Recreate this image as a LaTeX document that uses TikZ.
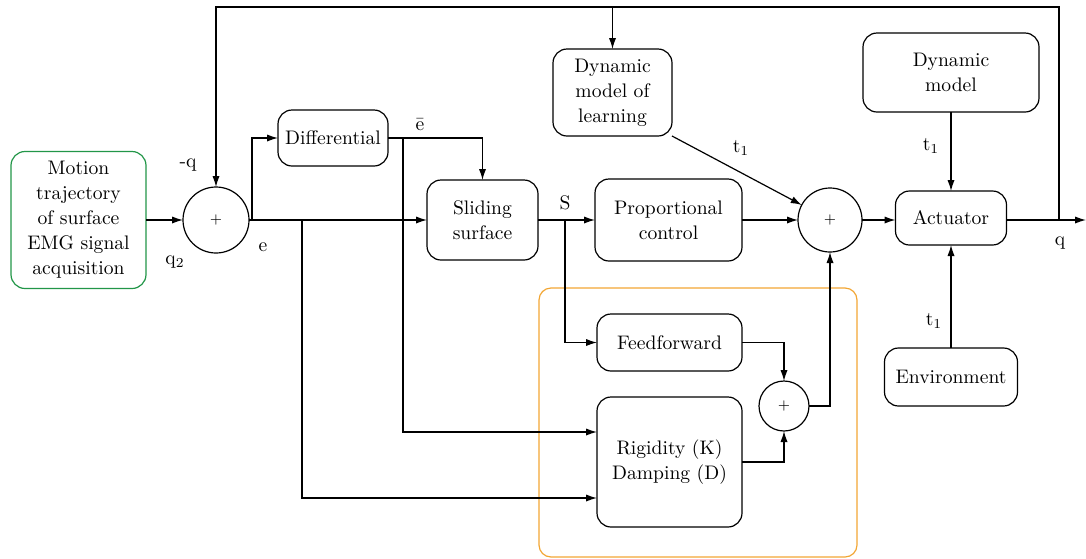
\documentclass[tikz,border=0pt]{standalone}
\usepackage{amssymb,amsmath}
\usepackage{tikz}
\usetikzlibrary{positioning,arrows.meta}
\usepackage{color}
\definecolor{GroupOrange}{RGB}{242,166,52}
\definecolor{SourceGreen}{RGB}{34,150,72}

\begin{document}
\begin{tikzpicture}[x=0.5pt,y=-0.5pt]
  \tikzset{BlockStyle/.style = {
    shape         = rectangle,
    rounded corners = 7pt,
    draw          = black,
    fill          = white,
    line width    = 0.6pt,
    text          = black,
    align         = center,
    inner sep     = 1pt,
    outer sep     = 0pt,
    font          = \fontsize{9.8}{12.5}\selectfont
    }
  }
  \tikzset{SumStyle/.style = {
    shape         = circle,
    draw          = black,
    fill          = white,
    line width    = 0.6pt,
    inner sep     = 0pt,
    outer sep     = 0pt,
    font          = \fontsize{7.5}{8}\selectfont
    }
  }
  \tikzset{GroupStyle/.style = {
    shape         = rectangle,
    rounded corners = 6pt,
    draw          = GroupOrange,
    line width    = 0.6pt,
    inner sep     = 0pt
    }
  }
  \tikzset{EdgeStyle/.style = {
    draw          = black,
    line width    = 0.6pt,
    -{Latex[length=5.5pt,width=3.6pt]}
    }
  }
  \tikzset{LabelStyle/.style = {
    inner sep     = 0pt,
    font          = \fontsize{9.8}{12.5}\selectfont
    }
  }

  \useasboundingbox (0,0) rectangle (1086,558);

	\node[GroupStyle, minimum width=159pt, minimum height=134.5pt](Group) at (698,422.5) {};
	%
	\node[BlockStyle, draw=SourceGreen, minimum width=67.5pt, minimum height=68.5pt](Motion) at (78.5,220) {Motion\\ trajectory\\ of surface\\ EMG signal\\ acquisition};
	\node[SumStyle, minimum size=33pt](Sum1) at (216,220) {$+$};
	\node[BlockStyle, minimum width=55pt, minimum height=28pt](Diff) at (333,138) {Differential};
	\node[BlockStyle, minimum width=55.5pt, minimum height=40pt](Slide) at (482.5,220) {Sliding\\ surface};
	\node[BlockStyle, minimum width=73.5pt, minimum height=41pt](Prop) at (668.5,220) {Proportional\\ control};
	\node[BlockStyle, minimum width=59.5pt, minimum height=43.5pt](Learn) at (612.5,92.5) {Dynamic\\ model of\\ learning};
	\node[SumStyle, minimum size=32pt](Sum2) at (830,220) {$+$};
	\node[BlockStyle, minimum width=88pt, minimum height=39.5pt](Model) at (951,72.5) {Dynamic\\ model};
	\node[BlockStyle, minimum width=55.5pt, minimum height=27pt](Act) at (951,218) {Actuator};
	\node[BlockStyle, minimum width=66.5pt, minimum height=29pt](Env) at (951,377) {Environment};
	\node[BlockStyle, minimum width=72.5pt, minimum height=28.5pt](Feed) at (669.5,342.5) {Feedforward};
	\node[BlockStyle, minimum width=72.5pt, minimum height=65pt](Rigid) at (669.5,462) {Rigidity (K)\\ Damping (D)};
	\node[SumStyle, minimum size=25pt](Sum3) at (784,406) {$+$};
	%
	\coordinate (Br1) at (252,220);
	\coordinate (Br2) at (302,220);
	\coordinate (Br3) at (403,138);
	\coordinate (Br4) at (565,220);
	\coordinate (Br5) at (1059,220);
	\coordinate (TopR) at (1059,7);
	\coordinate (Out) at (1086,220);
	\coordinate (RigIn1) at (597,432);
	\coordinate (RigIn2) at (597,498);
	%
	\node[LabelStyle](Lq) at (188,165) {-q};
	\node[LabelStyle](Lq2) at (175,262) {q\textsubscript{2}};
	\node[LabelStyle](Le) at (263,247) {e};
	\node[LabelStyle](Ledot) at (420,125) {\=e};
	\node[LabelStyle](Ls) at (565,203) {S};
	\node[LabelStyle](Lt1) at (741,148) {t\textsubscript{1}};
	\node[LabelStyle](Lt2) at (931,146) {t\textsubscript{1}};
	\node[LabelStyle](Lt3) at (934,321) {t\textsubscript{1}};
	\node[LabelStyle](Lqo) at (1060,243) {q};

	%
	\draw[EdgeStyle](Motion) to (Sum1);
	\draw[EdgeStyle](Sum1.east) to (Slide.west);
	\draw[EdgeStyle](Br1) |- (Diff.west);
	\draw[EdgeStyle](Diff.east) -| (Slide.north);
	\draw[EdgeStyle](Br3) |- (RigIn1);
	\draw[EdgeStyle](Br2) |- (RigIn2);
	\draw[EdgeStyle](Slide.east) to (Prop.west);
	\draw[EdgeStyle](Br4) |- (Feed.west);
	\draw[EdgeStyle](Prop.east) to (Sum2.west);
	\draw[EdgeStyle](Learn.south east) to (Sum2);
	\draw[EdgeStyle](Sum2.east) to (Act.west |- Sum2.east);
	\draw[EdgeStyle](Model.south) to (Act.north);
	\draw[EdgeStyle](Env.north) to (Act.south);
	\draw[EdgeStyle](Act.east |- Sum2.east) to (Out);
	\draw[EdgeStyle](Br5) -- (TopR) -| (Sum1.north);
	\draw[EdgeStyle](Learn.north |- TopR) to (Learn.north);
	\draw[EdgeStyle](Feed.east) -| (Sum3.north);
	\draw[EdgeStyle](Rigid.east) -| (Sum3.south);
	\draw[EdgeStyle](Sum3.east) -| (Sum2.south);

\end{tikzpicture}
\end{document}
